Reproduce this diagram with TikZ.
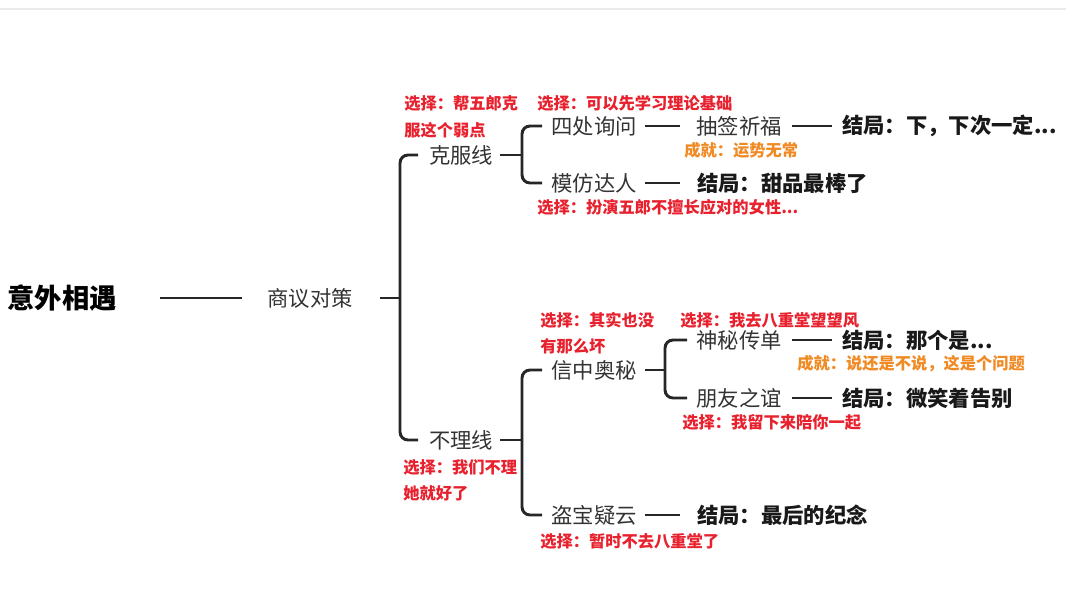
\documentclass[tikz,border=0pt]{standalone}
\usepackage{fontspec}
\setmainfont{Noto Sans CJK SC}
\usepackage{tikz}
\usetikzlibrary{positioning, calc}
\definecolor{texte}{HTML}{333333}
\definecolor{choix}{HTML}{E8212E}
\definecolor{succes}{HTML}{F08A24}
\tikzset{
    branche/.style={line width=2.2pt, black!85, rounded corners=6pt},
    sujet/.style={font=\fontsize{16}{18}\selectfont, text=texte, inner sep=0pt},
    fin/.style={font=\fontsize{16}{18}\selectfont\bfseries, text=black!90, anchor=west, inner sep=0pt},
    choix/.style={font=\fontsize{12.2}{14}\selectfont\bfseries, text=choix, anchor=west, inner sep=0pt},
    succes/.style={font=\fontsize{12.2}{14}\selectfont\bfseries, text=succes, anchor=west, inner sep=0pt},
}
\begin{document}
\begin{tikzpicture}[x=0.75pt,y=-0.75pt]
\useasboundingbox (0,0) rectangle (1066,600);
\draw[black!8, line width=1pt] (0,9) -- (1066,9);

% Racine
\node[font=\fontsize{20.5}{24}\selectfont\bfseries, inner sep=0pt] (racine) at (62,298) {意外相遇};
\node[sujet] (concertation) at (310,298) {商议对策};
\draw[branche] (160,298) -- (242,298);

% Lignes principales
\node[sujet] (vaincre) at (461,155) {克服线};
\node[sujet] (ignorer) at (461,440) {不理线};
\coordinate (j1) at (400,298);
\draw[branche] (380,298) -- (j1);
\draw[branche] (418,155) -| (j1) |- (418,440);

% Branche 克服线
\node[sujet] (enquete) at (594,126) {四处询问};
\node[sujet] (imiter) at (594,183) {模仿达人};
\coordinate (j2) at (522,155);
\draw[branche] (500,155) -- (j2);
\draw[branche] (542,126) -| (j2) |- (542,183);
\node[sujet] (tirage) at (739,126) {抽签祈福};
\draw[branche] (645,126) -- (680,126);
\draw[branche] (792,126) -- (832,126);
\node[fin] (finA) at (842,126) {结局：下，下次一定...};
\draw[branche] (645,183) -- (680,183);
\node[fin] (finB) at (697,183) {结局：甜品最棒了};

% Branche 不理线
\node[sujet] (lettre) at (594,370) {信中奥秘};
\node[sujet] (vol) at (594,515) {盗宝疑云};
\coordinate (j3) at (522,440);
\draw[branche] (500,440) -- (j3);
\draw[branche] (542,370) -| (j3) |- (542,515);
\node[sujet] (tract) at (739,340) {神秘传单};
\node[sujet] (amitie) at (739,398) {朋友之谊};
\coordinate (j4) at (665,370);
\draw[branche] (645,370) -- (j4);
\draw[branche] (687,340) -| (j4) |- (687,398);
\draw[branche] (792,340) -- (832,340);
\node[fin] (finC) at (842,340) {结局：那个是...};
\draw[branche] (792,398) -- (832,398);
\node[fin] (finD) at (842,398) {结局：微笑着告别};
\draw[branche] (645,515) -- (680,515);
\node[fin] (finE) at (697,515) {结局：最后的纪念};

% Annotations
\node[choix] at (404,103) {选择：帮五郎克};
\node[choix] at (404,130) {服这个弱点};
\node[choix] at (537,103) {选择：可以先学习理论基础};
\node[succes] at (684,150) {成就：运势无常};
\node[choix] at (537,207) {选择：扮演五郎不擅长应对的女性...};
\node[choix] at (540,320) {选择：其实也没};
\node[choix] at (540,346) {有那么坏};
\node[choix] at (680,320) {选择：我去八重堂望望风};
\node[succes] at (797,364) {成就：说还是不说，这是个问题};
\node[choix] at (682,422) {选择：我留下来陪你一起};
\node[choix] at (403,467) {选择：我们不理};
\node[choix] at (403,493) {她就好了};
\node[choix] at (540,541) {选择：暂时不去八重堂了};
\end{tikzpicture}
\end{document}
